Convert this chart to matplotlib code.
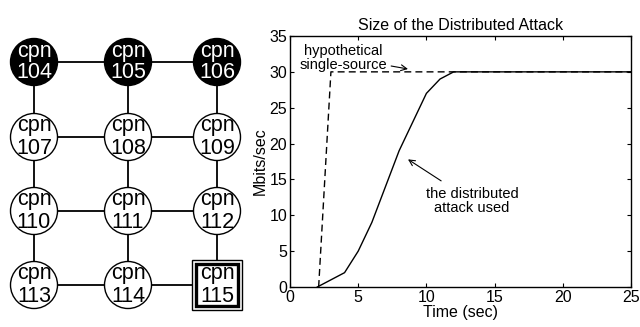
import numpy as np
import matplotlib.pyplot as plt
from matplotlib.patches import Circle, Rectangle

plt.rcParams['font.family'] = ['Liberation Sans', 'DejaVu Sans']

# attack rate over time
time_dist = [2, 4, 5, 6, 7, 8, 9, 10, 11, 12, 25]
rate_dist = [0, 2, 5, 9, 14, 19, 23, 27, 29, 30, 30]
time_single = [2.1, 3, 25]
rate_single = [0, 30, 30]

# network grid: node names by row, attackers on top row
node_rows = [[104, 105, 106], [107, 108, 109], [110, 111, 112], [113, 114, 115]]
attackers = [104, 105, 106]
target = 115

fig = plt.figure(figsize=(6.4, 3.27), dpi=100)

# ---- network diagram (pixel coordinates) ----
net = fig.add_axes([0, 0, 250 / 640, 1])
net.set_xlim(0, 250)
net.set_ylim(327, 0)
net.axis('off')

col_x = [34, 128, 217]
row_y = [62, 137, 211, 285]
r = 23.5

# links
for ry in row_y:
    net.plot([col_x[0], col_x[-1]], [ry, ry], color='black', lw=1.3, zorder=1)
for cx in col_x:
    net.plot([cx, cx], [row_y[0], row_y[-1]], color='black', lw=1.3, zorder=1)

for i, row in enumerate(node_rows):
    for j, name in enumerate(row):
        cx, cy = col_x[j], row_y[i]
        if name == target:
            net.add_patch(Rectangle((cx - 25, cy - 25), 50, 50, fc='white', ec='black', lw=1.0, zorder=2))
            net.add_patch(Rectangle((cx - 21, cy - 21), 42, 42, fc='white', ec='black', lw=2.4, zorder=3))
            tc = 'black'
        elif name in attackers:
            net.add_patch(Circle((cx, cy), r, fc='black', ec='black', lw=1.0, zorder=2))
            tc = 'white'
        else:
            net.add_patch(Circle((cx, cy), r, fc='white', ec='black', lw=1.0, zorder=2))
            tc = 'black'
        net.text(cx, cy - 11, 'cpn', ha='center', va='center', fontsize=15.5, color=tc, zorder=4)
        net.text(cx, cy + 11, str(name), ha='center', va='center', fontsize=15.5, color=tc, zorder=4)

# ---- attack size chart ----
ax = fig.add_axes([290 / 640, (327 - 287) / 327, 341 / 640, 251 / 327])
ax.plot(time_dist, rate_dist, color='black', lw=1.0)
ax.plot(time_single, rate_single, color='black', lw=1.0, ls=(0, (5, 3)))
ax.set_xlim(0, 25)
ax.set_ylim(0, 35)
ax.set_xticks([0, 5, 10, 15, 20, 25])
ax.set_yticks([0, 5, 10, 15, 20, 25, 30, 35])
ax.tick_params(direction='in', top=True, right=True, labelsize=11.5, length=3, pad=2)
ax.set_title('Size of the Distributed Attack', fontsize=11.5, pad=4)
ax.set_xlabel('Time (sec)', fontsize=11.5, labelpad=0)
ax.set_ylabel('Mbits/sec', fontsize=11.5, labelpad=1)
for s in ax.spines.values():
    s.set_linewidth(1.0)

ax.annotate('hypothetical\nsingle-source', xy=(8.65, 30.4), xytext=(3.9, 32.0),
            ha='center', va='center', fontsize=10.5, linespacing=1.0,
            arrowprops=dict(arrowstyle='->', color='black', lw=0.8, shrinkA=1, shrinkB=0))
ax.annotate('the distributed\nattack used', xy=(8.65, 17.8), xytext=(13.35, 12.0),
            ha='center', va='center', fontsize=10.5, linespacing=1.05,
            arrowprops=dict(arrowstyle='->', color='black', lw=0.8, shrinkA=4, shrinkB=0))

fig.savefig('out.png', dpi=100)
